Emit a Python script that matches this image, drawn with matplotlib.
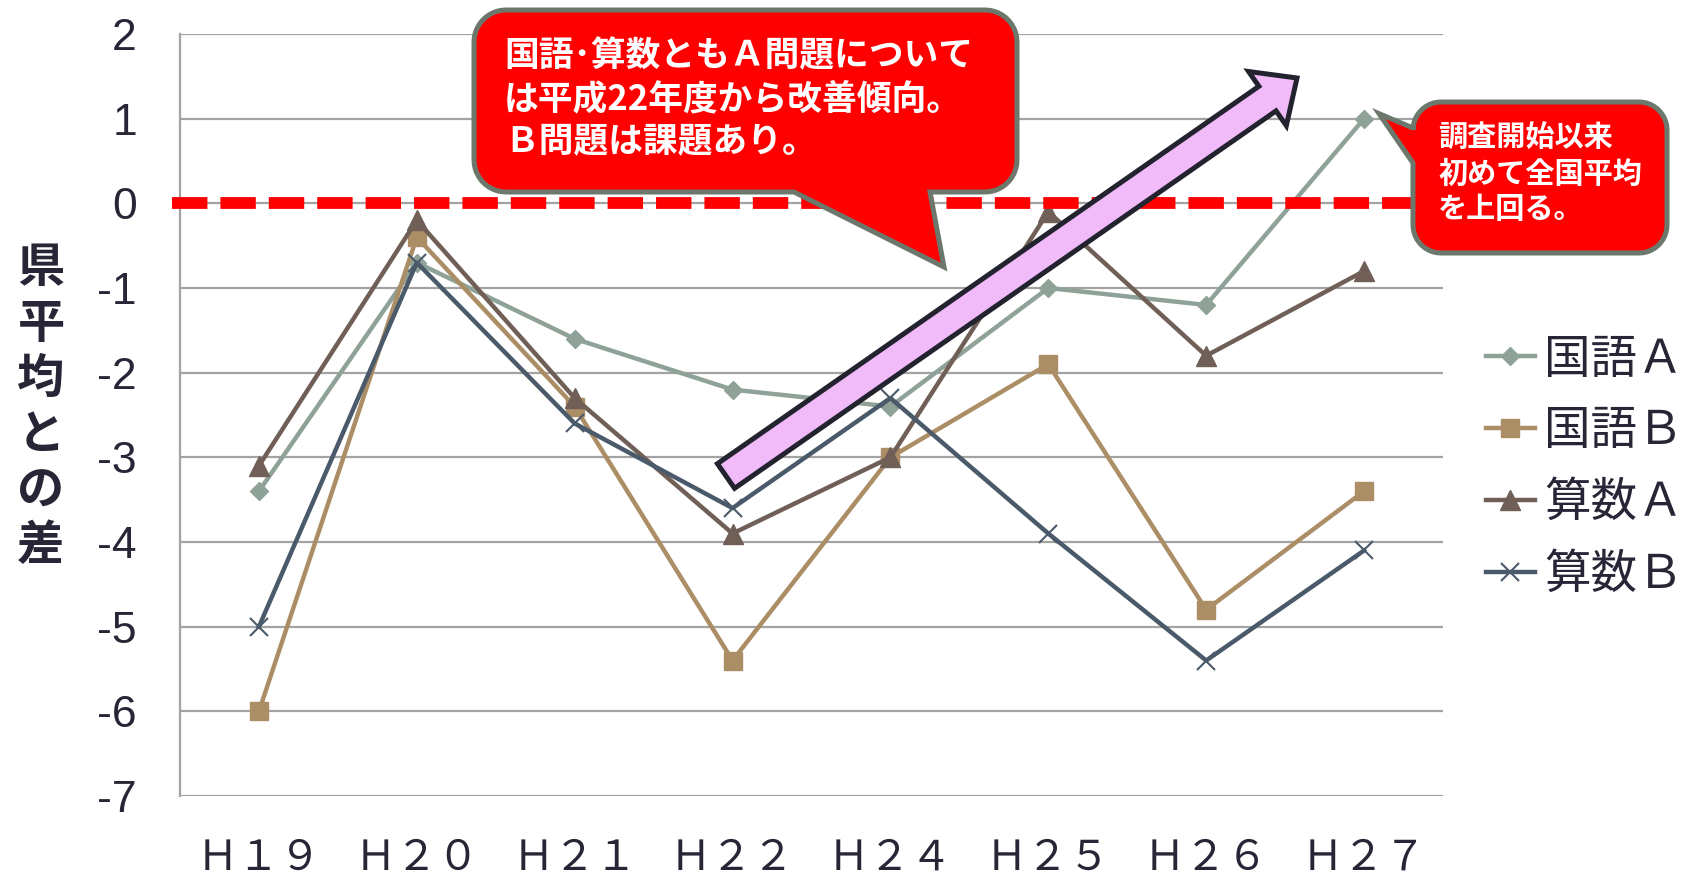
import numpy as np
import matplotlib.pyplot as plt
from matplotlib.patches import Polygon, FancyArrow

plt.rcParams['font.family'] = ['Noto Sans CJK JP', 'DejaVu Sans']

# 県平均と全国平均との差
years = ['Ｈ１９', 'Ｈ２０', 'Ｈ２１', 'Ｈ２２', 'Ｈ２４', 'Ｈ２５', 'Ｈ２６', 'Ｈ２７']
kokugo_a = [-3.4, -0.7, -1.6, -2.2, -2.4, -1.0, -1.2, 1.0]
kokugo_b = [-6.0, -0.4, -2.4, -5.4, -3.0, -1.9, -4.8, -3.4]
sansu_a = [-3.1, -0.2, -2.3, -3.9, -3.0, -0.1, -1.8, -0.8]
sansu_b = [-5.0, -0.7, -2.6, -3.6, -2.3, -3.9, -5.4, -4.1]
labels = ['国語Ａ', '国語Ｂ', '算数Ａ', '算数Ｂ']

note1 = ['国語･算数ともＡ問題について', 'は平成22年度から改善傾向。', 'Ｂ問題は課題あり。']
note2 = ['調査開始以来', '初めて全国平均', 'を上回る。']

W, H = 1686, 876
TXT = '#262636'


def callout(x0, y0, x1, y1, r, tail, side):
    """rounded box with a wedge tail, pixel coords (y down)"""
    def arc(cx, cy, a0, a1):
        t = np.radians(np.linspace(a0, a1, 12))
        return list(zip(cx + r * np.cos(t), cy + r * np.sin(t)))
    pts = []
    pts += arc(x0 + r, y0 + r, 180, 270)          # top-left
    pts += arc(x1 - r, y0 + r, 270, 360)          # top-right
    pts += arc(x1 - r, y1 - r, 0, 90)             # bottom-right
    if side == 'bottom':
        (ba, bb), tip = tail
        pts += [(bb, y1), tip, (ba, y1)]
    pts += arc(x0 + r, y1 - r, 90, 180)           # bottom-left
    if side == 'left':
        (ba, bb), tip = tail
        pts += [(x0, bb), tip, (x0, ba)]
    return pts


fig = plt.figure(figsize=(W / 100, H / 100), dpi=100)
ax = fig.add_axes([180 / W, 1 - 796 / H, 1263 / W, 762 / H])
x = np.arange(len(years))

ax.plot(x, kokugo_a, color='#8fa297', lw=3.2, marker='D', ms=9, label=labels[0], zorder=3)
ax.plot(x, kokugo_b, color='#ac8e66', lw=3.2, marker='s', ms=13, label=labels[1], zorder=3)
ax.plot(x, sansu_a, color='#6f5f57', lw=3.2, marker='^', ms=14, label=labels[2], zorder=3)
ax.plot(x, sansu_b, color='#4b5a6a', lw=3.2, marker='x', ms=13, mew=1.5, label=labels[3], zorder=3)

# 全国平均（0）のライン
ax.axhline(0, xmin=-8 / 1263, xmax=1.0, color='#ff0000', lw=8.5,
           dashes=(3.0, 1.1), clip_on=False, zorder=4)

ax.set_xlim(-0.5, len(years) - 0.5)
ax.set_ylim(-7, 2)
ax.set_yticks(range(-7, 3))
ax.set_xticks(x)
ax.set_xticklabels(years, fontsize=30, color=TXT)
ax.set_yticklabels([str(v) for v in range(-7, 3)], fontsize=32,
                   color=TXT, family='Liberation Sans')
ax.tick_params(axis='y', length=0, pad=31)
ax.tick_params(axis='x', length=0, pad=30)
ax.yaxis.grid(True, color='#a3a3a3', lw=1.6)
ax.set_axisbelow(True)
for s in ['top', 'right', 'bottom']:
    ax.spines[s].set_visible(False)
ax.spines['left'].set_color('#a3a3a3')
ax.spines['left'].set_linewidth(1.6)

leg = ax.legend(loc='center left', bbox_to_anchor=(1486 / W, 1 - 467 / H),
                bbox_transform=fig.transFigure, frameon=False, fontsize=33.5,
                handlelength=1.05, handletextpad=0.2, labelspacing=0.5,
                borderpad=0, borderaxespad=0)
for t in leg.get_texts():
    t.set_color(TXT)

fig.text(41 / W, 1 - 407 / H, '\n'.join('県平均との差'), ha='center', va='center',
         fontsize=34, fontweight='bold', color=TXT, linespacing=1.2)

# 吹き出しと矢印（ピクセル座標）
ov = fig.add_axes([0, 0, 1, 1], zorder=5)
ov.set_xlim(0, W)
ov.set_ylim(H, 0)
ov.axis('off')

ov.add_patch(FancyArrow(726, 476, 571, -398, width=30, head_width=66, head_length=36,
                        length_includes_head=True, fc='#f1bbf9', ec='#23232f', lw=3.6))

ov.add_patch(Polygon(callout(474, 10, 1017, 192, 32, ((794, 930), (944, 267)), 'bottom'),
                     closed=True, fc='#ff0000', ec='#6b786b', lw=3.6, joinstyle='miter'))
for i, line in enumerate(note1):
    ov.text(504, 56 + 43 * i, line, color='white', fontsize=25, fontweight='bold',
            ha='left', va='center')

px, py = ax.transData.transform((x[-1], kokugo_a[-1]))
tip2 = (px + 15, H - py - 5)
ov.add_patch(Polygon(callout(1413, 102, 1667, 253, 28, ((128, 163), tip2), 'left'),
                     closed=True, fc='#ff0000', ec='#6b786b', lw=3.6, joinstyle='miter'))
for i, line in enumerate(note2):
    ov.text(1438, 138 + 35.5 * i, line, color='white', fontsize=21, fontweight='bold',
            ha='left', va='center')

fig.savefig('out.png', dpi=100)
